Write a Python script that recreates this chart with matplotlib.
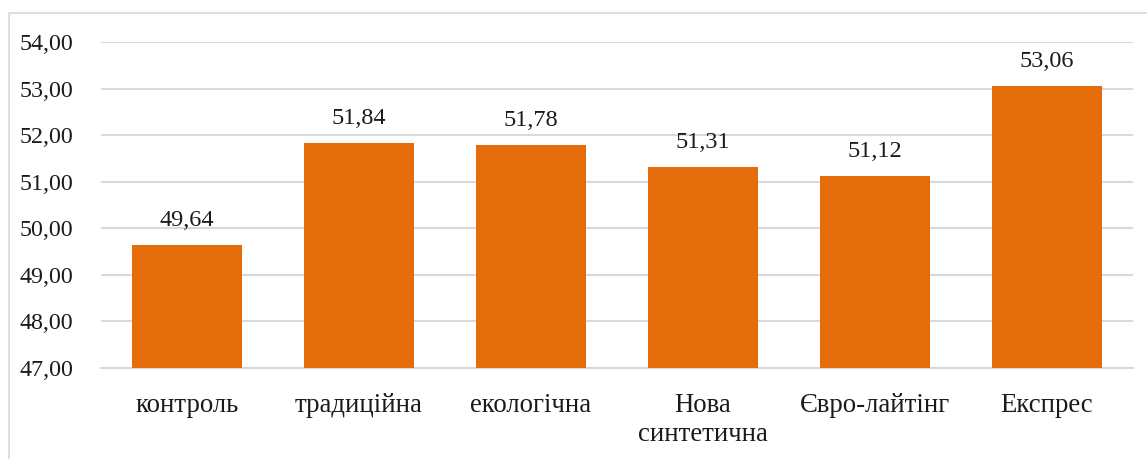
import matplotlib
matplotlib.use("Agg")
import matplotlib.pyplot as plt
from matplotlib.patches import Rectangle

categories = ["контроль", "традиційна", "екологічна", "Нова\nсинтетична", "Євро-лайтінг", "Експрес"]
values = [49.64, 51.84, 51.78, 51.31, 51.12, 53.06]
yticks = [47, 48, 49, 50, 51, 52, 53, 54]

plt.rcParams['font.family'] = ['Liberation Serif', 'DejaVu Serif']

W, H = 1147, 459
fig = plt.figure(figsize=(W / 100, H / 100), dpi=100)
ax = fig.add_axes([101 / W, 1 - 368 / H, (1133 - 101) / W, (368 - 42) / H])

x = list(range(len(categories)))
bars = ax.bar(x, [v - 47 for v in values], bottom=47, width=0.635, color="#E46C0A", zorder=3)
ax.set_xlim(-0.5, len(categories) - 0.5)
ax.set_ylim(47, 54)
ax.set_yticks(yticks)
ax.set_yticklabels([f"{t:.2f}".replace(".", ",") for t in yticks], fontsize=17.3, color="#1a1a1a")
ax.set_xticks(x)
ax.set_xticklabels(categories, fontsize=19.3, color="#1a1a1a", linespacing=1.2, va="top")
ax.tick_params(axis="both", length=0)
ax.tick_params(axis="y", pad=20)
ax.tick_params(axis="x", pad=18)
ax.grid(axis="y", color="#d9d9d9", linewidth=1.5, zorder=0)
for s in ["top", "right", "left"]:
    ax.spines[s].set_visible(False)
ax.spines["bottom"].set_color("#d9d9d9")
ax.spines["bottom"].set_linewidth(1.5)

for xi, v in zip(x, values):
    ax.annotate(f"{v:.2f}".replace(".", ","), (xi, v), xytext=(0, 10), textcoords="offset points",
                ha="center", va="bottom", fontsize=17.5, color="#1a1a1a")

fig.patches.append(Rectangle((9 / W, -0.1), 1.2, 1 - 13 / H + 0.1, transform=fig.transFigure,
                             fill=False, edgecolor="#d9d9d9", linewidth=1.2))

fig.savefig("out.png", dpi=100)
